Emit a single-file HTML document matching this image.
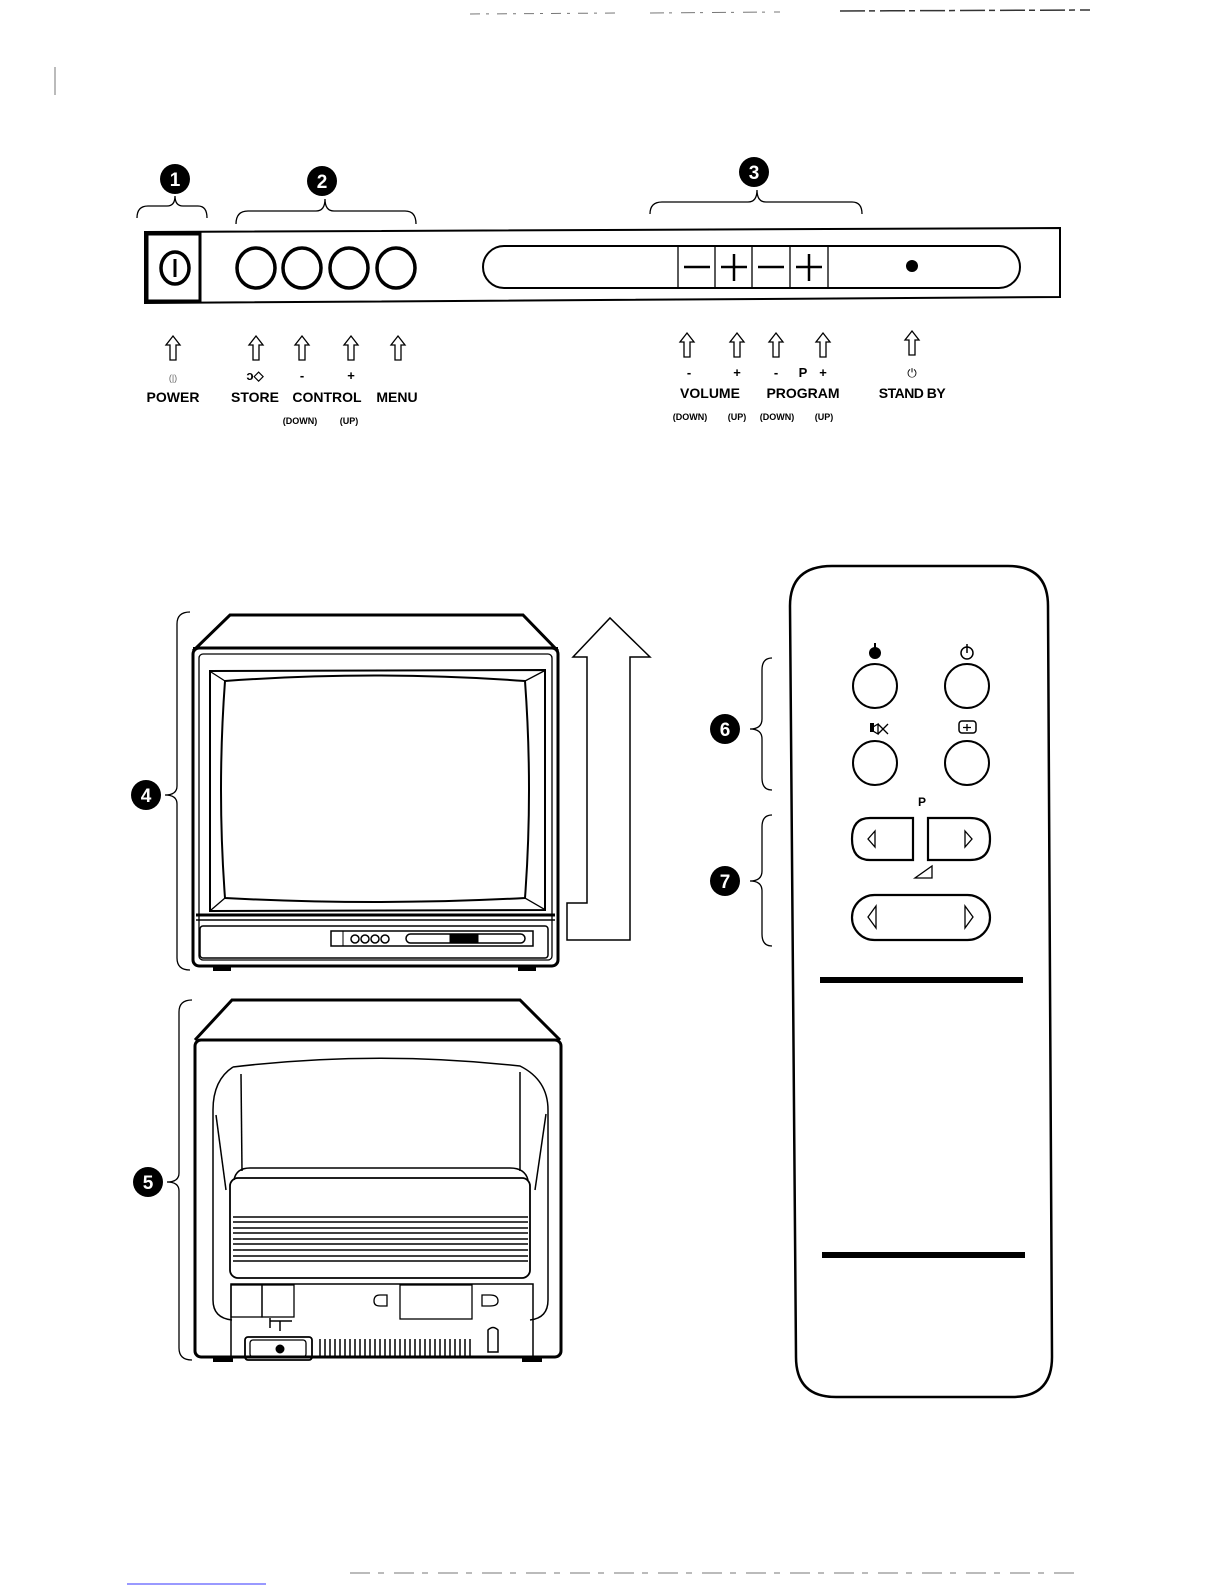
<!DOCTYPE html>
<html><head><meta charset="utf-8"><style>
html,body{margin:0;padding:0;background:#fff;overflow:hidden;width:1225px;height:1585px;}
svg{display:block;font-family:"Liberation Sans",Arial,sans-serif;}
.b{font-weight:bold;}
</style></head><body>
<svg width="1225" height="1585" viewBox="0 0 1225 1585" xmlns="http://www.w3.org/2000/svg">
<defs>
<path id="ar" d="M0,0 L7,9 L3,9 L3,24 L-3,24 L-3,9 L-7,9 Z" fill="none" stroke="#000" stroke-width="1.3"/>
</defs>
<g stroke="#777" stroke-width="1">
<line x1="55" y1="67" x2="55" y2="95"/>
<line x1="470" y1="14" x2="620" y2="13" stroke-dasharray="10 6 3 8"/><line x1="650" y1="13" x2="780" y2="12" stroke-dasharray="14 5 3 9"/>
<line x1="840" y1="11" x2="1090" y2="10" stroke="#333" stroke-width="1.5" stroke-dasharray="25 4 6 5"/>
<line x1="350" y1="1573" x2="1080" y2="1573" stroke-dasharray="20 8 6 10"/>
</g>
<line x1="127" y1="1584" x2="266" y2="1584" stroke="#33f" stroke-width="1"/>

<g class="b" font-size="19" fill="#fff" text-anchor="middle">
<circle cx="175" cy="179" r="15" fill="#000"/><text x="175" y="186">1</text>
<circle cx="322" cy="181" r="15" fill="#000"/><text x="322" y="188">2</text>
<circle cx="754" cy="172" r="15" fill="#000"/><text x="754" y="179">3</text>
<circle cx="146" cy="795" r="15" fill="#000"/><text x="146" y="802">4</text>
<circle cx="148" cy="1182" r="15" fill="#000"/><text x="148" y="1189">5</text>
<circle cx="725" cy="729" r="15" fill="#000"/><text x="725" y="736">6</text>
<circle cx="725" cy="881" r="15" fill="#000"/><text x="725" y="888">7</text>
</g>

<g fill="none" stroke="#000" stroke-width="1.3">
<path d="M137,218 Q137,206 148,206 L167,206 Q175,206 175,196 Q175,206 183,206 L198,206 Q207,206 207,218"/>
<path d="M236,224 Q236,211 248,211 L316,211 Q325,211 325,199 Q325,211 334,211 L405,211 Q416,211 416,224"/>
<path d="M650,214 Q650,202 662,202 L748,202 Q757,202 757,190 Q757,202 766,202 L852,202 Q862,202 862,214"/>
<path d="M190,612 Q177,612 177,624 L177,786 Q177,795 165,795 Q177,795 177,804 L177,958 Q177,970 190,970"/>
<path d="M192,1000 Q179,1000 179,1012 L179,1173 Q179,1182 167,1182 Q179,1182 179,1191 L179,1348 Q179,1360 192,1360"/>
<path d="M772,658 Q762,658 762,670 L762,719 Q762,729 750,729 Q762,729 762,739 L762,778 Q762,790 772,790"/>
<path d="M772,815 Q762,815 762,827 L762,871 Q762,881 750,881 Q762,881 762,891 L762,934 Q762,946 772,946"/>
</g>

<g fill="none" stroke="#000">
<path d="M145,232 L1060,228 L1060,297 L145,303 Z" stroke-width="2"/>
<rect x="147" y="234" width="53" height="67" stroke-width="3"/>
<ellipse cx="175" cy="268" rx="14" ry="16" stroke-width="3.5"/>
<line x1="175" y1="259" x2="175" y2="277" stroke-width="3"/>
<ellipse cx="256" cy="268" rx="19" ry="20" stroke-width="3.5"/>
<ellipse cx="302" cy="268" rx="19" ry="20" stroke-width="3.5"/>
<ellipse cx="349" cy="268" rx="19" ry="20" stroke-width="3.5"/>
<ellipse cx="396" cy="268" rx="19" ry="20" stroke-width="3.5"/>
<rect x="483" y="246" width="537" height="42" rx="21" stroke-width="2"/>
<g stroke-width="1.3"><line x1="678" y1="246" x2="678" y2="288"/><line x1="715" y1="246" x2="715" y2="288"/><line x1="752" y1="246" x2="752" y2="288"/><line x1="790" y1="246" x2="790" y2="288"/><line x1="828" y1="246" x2="828" y2="288"/></g>
<g stroke-width="2.5"><line x1="684" y1="267" x2="710" y2="267"/><line x1="721" y1="267" x2="747" y2="267"/><line x1="734" y1="254" x2="734" y2="281"/><line x1="758" y1="267" x2="784" y2="267"/><line x1="796" y1="267" x2="822" y2="267"/><line x1="809" y1="254" x2="809" y2="281"/></g>
</g>
<circle cx="912" cy="266" r="6" fill="#000"/>

<g>
<use href="#ar" x="173" y="336"/><use href="#ar" x="256" y="336"/><use href="#ar" x="302" y="336"/><use href="#ar" x="351" y="336"/><use href="#ar" x="398" y="336"/>
<use href="#ar" x="687" y="333"/><use href="#ar" x="737" y="333"/><use href="#ar" x="776" y="333"/><use href="#ar" x="823" y="333"/><use href="#ar" x="912" y="331"/>
</g>
<g class="b" text-anchor="middle" font-size="14" fill="#000">
<text x="173" y="402">POWER</text><text x="255" y="402">STORE</text><text x="327" y="402">CONTROL</text><text x="397" y="402">MENU</text>
<text x="710" y="398">VOLUME</text><text x="803" y="398">PROGRAM</text><text x="912" y="398" letter-spacing="-0.5">STAND BY</text>
<g font-size="9"><text x="300" y="424">(DOWN)</text><text x="349" y="424">(UP)</text>
<text x="690" y="420">(DOWN)</text><text x="737" y="420">(UP)</text><text x="777" y="420">(DOWN)</text><text x="824" y="420">(UP)</text></g>
<g font-size="13"><text x="255" y="380">ↄ◇</text><text x="302" y="380">-</text><text x="351" y="380">+</text>
<text x="689" y="377">-</text><text x="737" y="377">+</text><text x="776" y="377">-</text><text x="803" y="377">P</text><text x="823" y="377">+</text>
<text x="912" y="377" font-weight="normal" font-size="12">⏻</text></g>
<text x="173" y="381" font-size="9" font-weight="normal" fill="#666">(|)</text>
</g>

<g fill="none" stroke="#000">
<path d="M193,651 L230,615 L523,615 L558,651" stroke-width="3"/>
<rect x="193" y="648" width="365" height="318" rx="6" stroke-width="3"/>
<rect x="199" y="654" width="353" height="306" rx="4" stroke-width="1.3"/>
<line x1="193" y1="648" x2="558" y2="648" stroke-width="2"/>
<path d="M210,671 L545,670 L545,910 L210,911 Z" stroke-width="2"/>
<path d="M225,681 Q375,670 525,681 Q533,790 525,898 Q375,906 225,898 Q217,790 225,681 Z" stroke-width="2"/>
<g stroke-width="1.3"><line x1="211" y1="672" x2="225" y2="681"/><line x1="544" y1="671" x2="525" y2="681"/><line x1="211" y1="910" x2="225" y2="898"/><line x1="544" y1="909" x2="525" y2="898"/></g>
<line x1="196" y1="915" x2="555" y2="915" stroke-width="3"/><line x1="196" y1="920" x2="555" y2="920" stroke-width="1.5"/>
<rect x="200" y="926" width="348" height="32" rx="3" stroke-width="1.5"/>
<rect x="331" y="931" width="202" height="15" stroke-width="1.5"/>
<line x1="343" y1="931" x2="343" y2="946"/>
<g stroke-width="1.5"><circle cx="355" cy="939" r="4"/><circle cx="365" cy="939" r="4"/><circle cx="375" cy="939" r="4"/><circle cx="385" cy="939" r="4"/></g>
<rect x="406" y="934" width="119" height="9" rx="4.5" stroke-width="1.5"/>
<rect x="450" y="935" width="28" height="7" fill="#000"/>
<rect x="213" y="966" width="18" height="5" fill="#000" stroke="none"/><rect x="518" y="966" width="18" height="5" fill="#000" stroke="none"/>
<line x1="212" y1="966" x2="540" y2="966" stroke-width="1"/>
</g>

<path d="M567,940 L567,903 L587,903 L587,657 L573,657 L610,618 L650,657 L630,657 L630,940 Z" fill="none" stroke="#000" stroke-width="1.5"/>

<g fill="none" stroke="#000">
<path d="M195,1040 L232,1000 L520,1000 L560,1040" stroke-width="3"/>
<rect x="195" y="1040" width="366" height="317" rx="6" stroke-width="3"/>
<path d="M233,1067 Q375,1050 520,1066 Q548,1080 548,1110 L548,1300 Q548,1318 530,1320 M233,1067 Q213,1080 213,1110 L213,1300 Q213,1318 232,1320" stroke-width="1.5"/>
<g stroke-width="1.5"><line x1="241" y1="1074" x2="242" y2="1171"/><line x1="520" y1="1072" x2="520" y2="1171"/><line x1="216" y1="1115" x2="226" y2="1190"/><line x1="546" y1="1114" x2="535" y2="1190"/></g>
<path d="M234,1180 Q236,1168 250,1168 L510,1168 Q525,1168 528,1180" stroke-width="1.5"/>
<rect x="230" y="1178" width="300" height="100" rx="8" stroke-width="1.8"/>
<g stroke-width="1.5"><line x1="233" y1="1217" x2="528" y2="1217"/><line x1="233" y1="1222" x2="528" y2="1222"/><line x1="233" y1="1228" x2="528" y2="1228"/><line x1="233" y1="1233" x2="528" y2="1233"/><line x1="233" y1="1239" x2="528" y2="1239"/><line x1="233" y1="1244" x2="528" y2="1244"/><line x1="233" y1="1250" x2="528" y2="1250"/><line x1="233" y1="1256" x2="528" y2="1256"/><line x1="233" y1="1261" x2="528" y2="1261"/></g>
<path d="M231,1357 L231,1284 L533,1284 L533,1357" stroke-width="1.5"/>
<rect x="231" y="1285" width="31" height="32" stroke-width="1.3"/><rect x="262" y="1285" width="32" height="32" stroke-width="1.3"/>
<rect x="400" y="1285" width="72" height="34" stroke-width="1.3"/>
<path d="M387,1295 L380,1295 Q374,1295 374,1301 Q374,1306 380,1306 L387,1306 Z" stroke-width="1.3"/>
<path d="M482,1295 L490,1295 Q498,1295 498,1301 Q498,1306 490,1306 L482,1306 Z" stroke-width="1.3"/>
<path d="M270,1318 L270,1328 M270,1321 L280,1321 M280,1321 L280,1331 M280,1321 L292,1321" stroke-width="1.5"/>
<rect x="245" y="1337" width="67" height="23" rx="3" stroke-width="1.8"/><rect x="250" y="1340" width="56" height="17" rx="3" stroke-width="1.3"/>
<circle cx="280" cy="1349" r="4" fill="#000"/>
<path d="M488,1352 L488,1330 Q493,1325 498,1330 L498,1352 Z" stroke-width="1.5"/>
</g>
<g stroke="#000" stroke-width="1.5">
<path d="M320,1339 v17 M325,1339 v17 M330,1339 v17 M335,1339 v17 M340,1339 v17 M345,1339 v17 M350,1339 v17 M355,1339 v17 M360,1339 v17 M365,1339 v17 M370,1339 v17 M375,1339 v17 M380,1339 v17 M385,1339 v17 M390,1339 v17 M395,1339 v17 M400,1339 v17 M405,1339 v17 M410,1339 v17 M415,1339 v17 M420,1339 v17 M425,1339 v17 M430,1339 v17 M435,1339 v17 M440,1339 v17 M445,1339 v17 M450,1339 v17 M455,1339 v17 M460,1339 v17 M465,1339 v17 M470,1339 v17"/>
</g>
<rect x="213" y="1357" width="20" height="5" fill="#000"/><rect x="522" y="1357" width="20" height="5" fill="#000"/>

<g fill="none" stroke="#000">
<path d="M832,566 L1008,566 Q1048,566 1048,606 L1052,1357 Q1052,1397 1012,1397 L836,1397 Q796,1397 796,1357 L790,606 Q790,566 832,566 Z" stroke-width="2.5"/>
<g stroke-width="2"><circle cx="875" cy="686" r="22"/><circle cx="967" cy="686" r="22"/><circle cx="875" cy="763" r="22"/><circle cx="967" cy="763" r="22"/></g>
<circle cx="967" cy="653" r="6" stroke-width="1.5"/><line x1="967" y1="644" x2="967" y2="653" stroke-width="1.5"/>
<rect x="959" y="721" width="17" height="12" rx="3" stroke-width="1.5"/><path d="M967,724 v7 M963,727.5 h8" stroke-width="1.3"/>
<path d="M878,724 L888,734 M888,724 L878,734 M873,727 L878,724 L878,734 L873,731 Z" stroke-width="1.3"/>
<path d="M913,818 L870,818 Q852,818 852,839 Q852,860 870,860 L913,860 Z" stroke-width="2.2"/>
<path d="M928,818 L970,818 Q990,818 990,839 Q990,860 970,860 L928,860 Z" stroke-width="2.2"/>
<rect x="852" y="895" width="138" height="45" rx="22.5" stroke-width="2.2"/>
<g stroke-width="1.3"><path d="M875,831 L868,839 L875,847 Z"/><path d="M965,831 L972,839 L965,847 Z"/><path d="M876,906 L868,917 L876,928 Z"/><path d="M965,906 L973,917 L965,928 Z"/><path d="M915,878 L932,878 L932,866 Z"/></g>
</g>
<circle cx="875" cy="653" r="6" fill="#000"/><line x1="875" y1="643" x2="875" y2="652" stroke="#000" stroke-width="2"/>
<rect x="870" y="723" width="4" height="9" fill="#000"/>
<text x="922" y="806" class="b" font-size="12" text-anchor="middle">P</text>
<rect x="820" y="977" width="203" height="6" fill="#000"/>
<rect x="822" y="1252" width="203" height="6" fill="#000"/>
</svg>
</body></html>
